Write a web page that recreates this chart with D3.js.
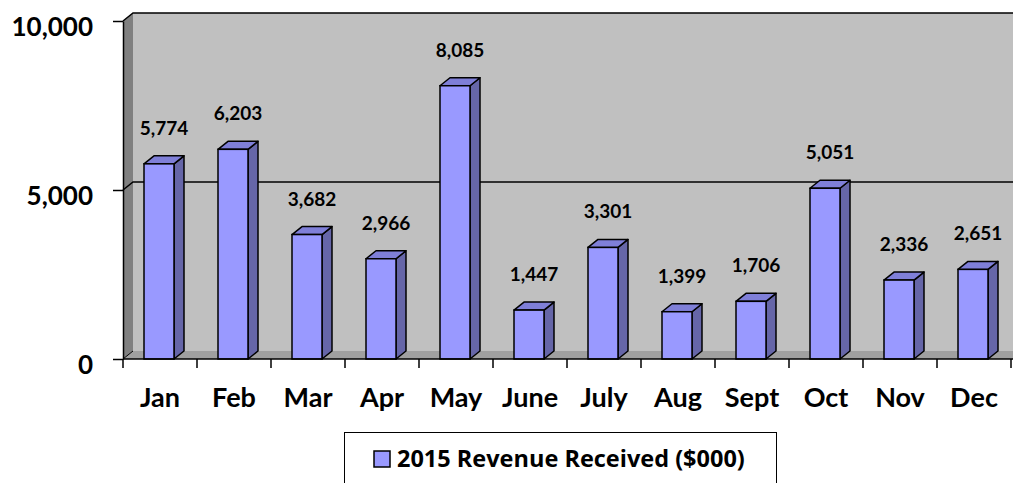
<!DOCTYPE html>
<html>
<head>
<meta charset="utf-8">
<script src="https://cdn.jsdelivr.net/npm/d3@7"></script>
<style>
  body { margin: 0; background: #fff; }
  text { font-family: Lato, "Open Sans", sans-serif; font-weight: bold; fill: #000; }
</style>
</head>
<body>
<div id="chart"></div>
<script>
const months = ['Jan', 'Feb', 'Mar', 'Apr', 'May', 'June', 'July', 'Aug', 'Sept', 'Oct', 'Nov', 'Dec'];
const revenue = [5774, 6203, 3682, 2966, 8085, 1447, 3301, 1399, 1706, 5051, 2336, 2651];
const yTicks = [0, 5000, 10000];
const seriesName = '2015 Revenue Received ($000)';

const width = 1013;
const height = 483;
const plot = { left: 123, right: 1011, top: 21, bottom: 359 };
const depth = { dx: 10, dy: -8 };
const barWidth = 30;

const svg = d3.select('#chart')
  .append('svg')
  .attr('width', width)
  .attr('height', height);

const x = d3.scaleBand()
  .domain(months)
  .range([plot.left, plot.right])
  .padding(0);

const y = d3.scaleLinear()
  .domain([0, 10000])
  .range([plot.bottom, plot.top]);

const pts = (arr) => arr.map((p) => p.join(',')).join(' ');

// back wall
svg.append('rect')
  .attr('x', plot.left + depth.dx)
  .attr('y', plot.top + depth.dy)
  .attr('width', plot.right - plot.left + 20)
  .attr('height', plot.bottom - plot.top)
  .attr('fill', '#c0c0c0');

// side wall
svg.append('polygon')
  .attr('points', pts([
    [plot.left, plot.top],
    [plot.left + depth.dx, plot.top + depth.dy],
    [plot.left + depth.dx, plot.bottom + depth.dy],
    [plot.left, plot.bottom],
  ]))
  .attr('fill', '#808080');

// floor
svg.append('polygon')
  .attr('points', pts([
    [plot.left, plot.bottom],
    [plot.left + depth.dx, plot.bottom + depth.dy],
    [plot.right + 30, plot.bottom + depth.dy],
    [plot.right + 30, plot.bottom],
  ]))
  .attr('fill', '#a0a0a0');

// wall top edge
svg.append('path')
  .attr('d', `M${plot.left},${plot.top}L${plot.left + depth.dx},${plot.top + depth.dy}H${width}`)
  .attr('fill', 'none')
  .attr('stroke', '#000')
  .attr('stroke-width', 1.5);

// gridlines (not the floor)
svg.selectAll('.grid')
  .data(yTicks.filter((d) => d > 0 && d < 10000))
  .enter()
  .append('path')
  .attr('d', (d) => `M${plot.left},${y(d)}L${plot.left + depth.dx},${y(d) + depth.dy}H${width}`)
  .attr('fill', 'none')
  .attr('stroke', '#000')
  .attr('stroke-width', 1.5);

svg.append('path')
  .attr('d', `M${plot.left},${plot.bottom}L${plot.left + depth.dx},${plot.bottom + depth.dy}`)
  .attr('stroke', '#000')
  .attr('stroke-width', 1);

/**
 * Bars: side, top, front
 */
const bars = svg.selectAll('.bar')
  .data(months.map((m, i) => ({ month: m, value: revenue[i] })))
  .enter()
  .append('g')
  .attr('class', 'bar');

const barX = (d) => x(d.month) + (x.bandwidth() - barWidth) / 2 - 1;

bars.append('polygon')
  .attr('points', (d) => {
    const x0 = barX(d) + barWidth;
    const y0 = y(d.value);
    return pts([[x0, y0], [x0 + depth.dx, y0 + depth.dy], [x0 + depth.dx, plot.bottom + depth.dy], [x0, plot.bottom]]);
  })
  .attr('fill', '#6666a8')
  .attr('stroke', '#000')
  .attr('stroke-width', 1.5)
  .attr('stroke-linejoin', 'round');

bars.append('polygon')
  .attr('points', (d) => {
    const x0 = barX(d);
    const y0 = y(d.value);
    return pts([[x0, y0], [x0 + depth.dx, y0 + depth.dy], [x0 + barWidth + depth.dx, y0 + depth.dy], [x0 + barWidth, y0]]);
  })
  .attr('fill', '#7f7fd8')
  .attr('stroke', '#000')
  .attr('stroke-width', 1.5)
  .attr('stroke-linejoin', 'round');

bars.append('rect')
  .attr('x', barX)
  .attr('y', (d) => y(d.value))
  .attr('width', barWidth)
  .attr('height', (d) => plot.bottom - y(d.value))
  .attr('fill', '#9999ff')
  .attr('stroke', '#000')
  .attr('stroke-width', 1.5);

// value labels
bars.append('text')
  .attr('x', (d) => x(d.month) + x.bandwidth() / 2 + 4)
  .attr('y', (d) => y(d.value) - 29)
  .attr('text-anchor', 'middle')
  .style('font-size', '19px')
  .text((d) => d3.format(',')(d.value));

/**
 * Axes
 */
const yAxis = svg.append('g')
  .attr('transform', `translate(${plot.left},0)`)
  .call(d3.axisLeft(y).tickValues(yTicks).tickSize(10).tickSizeOuter(0).tickPadding(20).tickFormat(d3.format(',')));
yAxis.select('.domain').attr('stroke', '#000').attr('stroke-width', 1.5);
yAxis.selectAll('.tick line').attr('stroke', '#000').attr('stroke-width', 1.5);
yAxis.selectAll('.tick text')
  .attr('dy', '0.55em')
  .style('font-size', '26px')
  .style('font-family', 'Lato, sans-serif');

const xAxis = svg.append('g')
  .attr('transform', `translate(0,${plot.bottom})`)
  .call(d3.axisBottom(x).tickSize(0).tickPadding(30));
xAxis.select('.domain').remove();
xAxis.selectAll('.tick text')
  .attr('dy', '0.68em')
  .style('font-size', '27px')
  .style('font-family', 'Lato, sans-serif');

svg.append('line')
  .attr('x1', plot.left).attr('x2', plot.right + 2)
  .attr('y1', plot.bottom).attr('y2', plot.bottom)
  .attr('stroke', '#000').attr('stroke-width', 1.5);

svg.selectAll('.xtick')
  .data(months.map((m) => x(m)).concat([plot.right]))
  .enter()
  .append('line')
  .attr('x1', (d) => d).attr('x2', (d) => d)
  .attr('y1', plot.bottom).attr('y2', plot.bottom + 9)
  .attr('stroke', '#000').attr('stroke-width', 1.5);

/**
 * Legend
 */
const legend = svg.append('g');
legend.append('rect')
  .attr('x', 344.5).attr('y', 432.5)
  .attr('width', 432).attr('height', 60)
  .attr('fill', '#fff')
  .attr('stroke', '#000')
  .attr('stroke-width', 1);
legend.append('rect')
  .attr('x', 374).attr('y', 451)
  .attr('width', 16).attr('height', 16)
  .attr('fill', '#9999ff')
  .attr('stroke', '#000')
  .attr('stroke-width', 1.5);
legend.append('text')
  .attr('x', 397).attr('y', 467)
  .style('font-size', '23.5px')
  .style('font-family', '"Open Sans", sans-serif')
  .text(seriesName);
</script>
</body>
</html>
